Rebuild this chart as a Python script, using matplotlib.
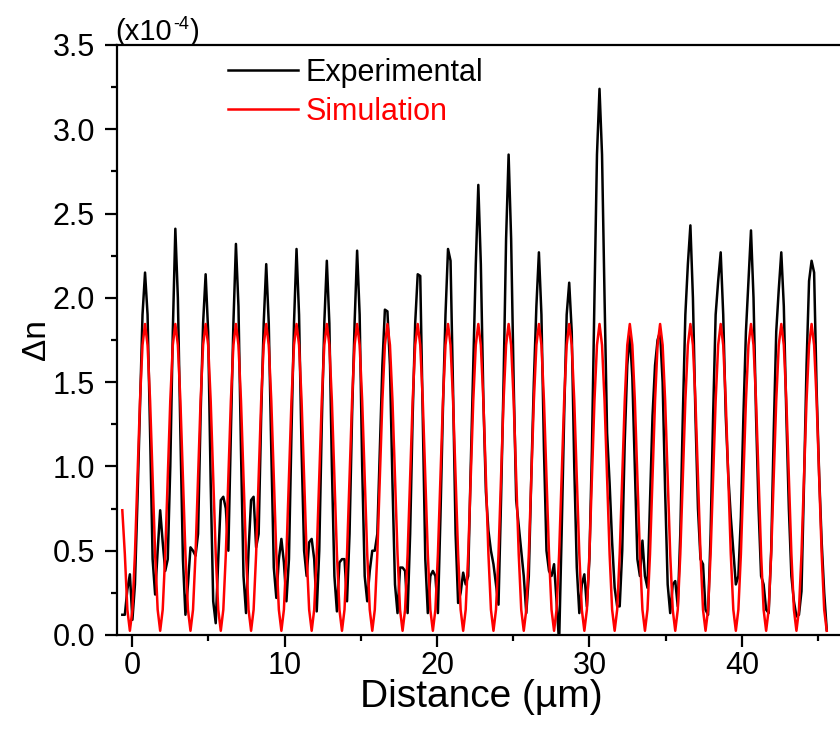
import numpy as np
import matplotlib
matplotlib.use("Agg")
import matplotlib.pyplot as plt
from matplotlib.ticker import MultipleLocator

plt.rcParams['font.family'] = ['Liberation Sans', 'DejaVu Sans']

# sampling of the distance axis (µm)
dist_start = -0.651
dist_step = 0.16567

# Experimental Δn (x1e-4), one row per grating period
exp_rows = [
    [0.12, 0.12, 0.27, 0.36, 0.09, 0.30, 0.80, 1.35, 1.90],
    [2.15, 1.90, 1.20, 0.45, 0.24, 0.50, 0.74, 0.55, 0.38, 0.45, 1.00, 1.80],
    [2.41, 2.00, 1.20, 0.45, 0.12, 0.30, 0.52, 0.50, 0.47, 0.60, 1.30, 1.85],
    [2.14, 1.80, 0.90, 0.20, 0.07, 0.45, 0.80, 0.82, 0.75, 0.50, 1.20, 1.85],
    [2.32, 1.95, 1.10, 0.35, 0.13, 0.50, 0.80, 0.82, 0.52, 0.60, 1.30, 1.85],
    [2.20, 1.85, 1.10, 0.40, 0.22, 0.45, 0.57, 0.43, 0.20, 0.45, 1.20, 1.85],
    [2.29, 1.90, 1.10, 0.50, 0.35, 0.55, 0.57, 0.45, 0.14, 0.50, 1.25, 1.85],
    [2.22, 1.85, 1.00, 0.35, 0.14, 0.43, 0.45, 0.45, 0.20, 0.60, 1.30, 1.85],
    [2.28, 1.90, 1.00, 0.35, 0.20, 0.38, 0.50, 0.50, 0.60, 1.10, 1.60, 1.93],
    [1.92, 1.60, 0.90, 0.30, 0.13, 0.40, 0.40, 0.38, 0.13, 0.60, 1.30, 1.85],
    [2.14, 2.13, 1.30, 0.45, 0.13, 0.35, 0.38, 0.35, 0.13, 0.70, 1.35, 1.90],
    [2.29, 2.22, 1.45, 0.60, 0.19, 0.25, 0.37, 0.30, 0.35, 1.00, 1.60, 2.20],
    [2.67, 2.20, 1.40, 0.85, 0.62, 0.50, 0.42, 0.30, 0.18, 0.80, 1.50, 2.35],
    [2.85, 2.35, 1.50, 0.80, 0.65, 0.50, 0.35, 0.13, 0.35, 0.95, 1.50, 1.95],
    [2.27, 1.90, 1.10, 0.50, 0.38, 0.35, 0.42, 0.20, -0.05, 0.60, 1.30, 1.90],
    [2.09, 1.80, 1.00, 0.40, 0.13, 0.30, 0.36, 0.17, 0.45, 1.10, 2.00, 2.85],
    [3.24, 2.85, 2.00, 1.20, 0.90, 0.55, 0.28, 0.17, 0.17, 0.50, 1.15, 1.60],
    [1.79, 1.53, 1.00, 0.45, 0.35, 0.56, 0.35, 0.28, 0.80, 1.30, 1.60, 1.75],
    [1.80, 1.50, 0.85, 0.30, 0.13, 0.30, 0.32, 0.17, 0.60, 1.30, 1.90, 2.20],
    [2.43, 2.00, 1.30, 0.75, 0.45, 0.42, 0.15, 0.12, 0.60, 1.30, 1.90, 2.10],
    [2.27, 1.90, 1.30, 0.95, 0.70, 0.50, 0.30, 0.35, 0.70, 1.30, 1.80, 2.10],
    [2.40, 2.00, 1.30, 0.75, 0.35, 0.30, 0.15, 0.13, 0.50, 1.20, 1.80, 2.05],
    [2.27, 1.95, 1.30, 0.75, 0.35, 0.20, 0.11, 0.12, 0.26, 0.90, 1.60, 2.10],
    [2.22, 2.15, 1.45, 0.95, 0.55, 0.25, 0.03],
]

# Simulated Δn (x1e-4), one row per grating period
sim_rows = [
    [0.74, 0.48, 0.15, 0.025, 0.15, 0.48, 0.935, 1.39, 1.72],
    [1.845, 1.72, 1.39, 0.935, 0.48, 0.15, 0.025, 0.15, 0.48, 0.935, 1.39, 1.72],
    [1.845, 1.72, 1.39, 0.935, 0.48, 0.15, 0.025, 0.15, 0.48, 0.935, 1.39, 1.72],
    [1.845, 1.72, 1.39, 0.935, 0.48, 0.15, 0.025, 0.15, 0.48, 0.935, 1.39, 1.72],
    [1.845, 1.72, 1.39, 0.935, 0.48, 0.15, 0.025, 0.15, 0.48, 0.935, 1.39, 1.72],
    [1.845, 1.72, 1.39, 0.935, 0.48, 0.15, 0.025, 0.15, 0.48, 0.935, 1.39, 1.72],
    [1.845, 1.72, 1.39, 0.935, 0.48, 0.15, 0.025, 0.15, 0.48, 0.935, 1.39, 1.72],
    [1.845, 1.72, 1.39, 0.935, 0.48, 0.15, 0.025, 0.15, 0.48, 0.935, 1.39, 1.72],
    [1.845, 1.72, 1.39, 0.935, 0.48, 0.15, 0.025, 0.15, 0.48, 0.935, 1.39, 1.72],
    [1.845, 1.72, 1.39, 0.935, 0.48, 0.15, 0.025, 0.15, 0.48, 0.935, 1.39, 1.72],
    [1.845, 1.72, 1.39, 0.935, 0.48, 0.15, 0.025, 0.15, 0.48, 0.935, 1.39, 1.72],
    [1.845, 1.72, 1.39, 0.935, 0.48, 0.15, 0.025, 0.15, 0.48, 0.935, 1.39, 1.72],
    [1.845, 1.72, 1.39, 0.935, 0.48, 0.15, 0.025, 0.15, 0.48, 0.935, 1.39, 1.72],
    [1.845, 1.72, 1.39, 0.935, 0.48, 0.15, 0.025, 0.15, 0.48, 0.935, 1.39, 1.72],
    [1.845, 1.72, 1.39, 0.935, 0.48, 0.15, 0.025, 0.15, 0.48, 0.935, 1.39, 1.72],
    [1.845, 1.72, 1.39, 0.935, 0.48, 0.15, 0.025, 0.15, 0.48, 0.935, 1.39, 1.72],
    [1.845, 1.72, 1.39, 0.935, 0.48, 0.15, 0.025, 0.15, 0.48, 0.935, 1.39, 1.72],
    [1.845, 1.72, 1.39, 0.935, 0.48, 0.15, 0.025, 0.15, 0.48, 0.935, 1.39, 1.72],
    [1.845, 1.72, 1.39, 0.935, 0.48, 0.15, 0.025, 0.15, 0.48, 0.935, 1.39, 1.72],
    [1.845, 1.72, 1.39, 0.935, 0.48, 0.15, 0.025, 0.15, 0.48, 0.935, 1.39, 1.72],
    [1.845, 1.72, 1.39, 0.935, 0.48, 0.15, 0.025, 0.15, 0.48, 0.935, 1.39, 1.72],
    [1.845, 1.72, 1.39, 0.935, 0.48, 0.15, 0.025, 0.15, 0.48, 0.935, 1.39, 1.72],
    [1.845, 1.72, 1.39, 0.935, 0.48, 0.15, 0.025, 0.15, 0.48, 0.935, 1.39, 1.72],
    [1.845, 1.72, 1.39, 0.935, 0.48, 0.15, 0.025],
]

series_labels = ['Experimental', 'Simulation']
x_major_ticks = [0, 10, 20, 30, 40]
y_major_ticks = [0.0, 0.5, 1.0, 1.5, 2.0, 2.5, 3.0, 3.5]

exp_y = np.array([v for row in exp_rows for v in row])
sim_y = np.array([v for row in sim_rows for v in row])
exp_x = dist_start + dist_step * np.arange(len(exp_y))
sim_x = dist_start + dist_step * np.arange(len(sim_y))

W, H = 840, 731
fig = plt.figure(figsize=(W / 100, H / 100), dpi=100)
ax = fig.add_axes([117.3 / W, (H - 635) / H, (845 - 117.3) / W, 590 / H])

ax.plot(exp_x, exp_y, color='black', lw=1.8, label=series_labels[0])
ax.plot(sim_x, sim_y, color='#ff0000', lw=1.8, label=series_labels[1])

ax.set_xlim(-0.98, -0.98 + (845 - 117.3) / 15.24)
ax.set_ylim(0, 3.5)
ax.set_xticks(x_major_ticks)
ax.set_yticks(y_major_ticks)
ax.set_yticklabels([f"{v:.1f}" for v in y_major_ticks])
ax.xaxis.set_minor_locator(MultipleLocator(5))
ax.yaxis.set_minor_locator(MultipleLocator(0.25))

for s in ax.spines.values():
    s.set_linewidth(1.6)
ax.spines['right'].set_visible(False)
ax.tick_params(which='major', direction='out', length=8.5, width=1.6,
               labelsize=22, top=False, right=False)
ax.tick_params(axis='y', which='major', pad=7.5)
ax.tick_params(axis='x', which='major', pad=3)
ax.tick_params(which='minor', direction='out', length=4.5, width=1.6,
               top=False, right=False)

ax.set_xlabel('Distance (µm)', fontsize=28, labelpad=-1.5)
ax.set_ylabel('Δn', fontsize=24, labelpad=0)

# "(x10-4)" multiplier label
fig.text(115 / W, 1 - 40 / H, '(x10', fontsize=21, ha='left', va='baseline')
fig.text(173 / W, 1 - 29 / H, '-4', fontsize=13, ha='left', va='baseline')
fig.text(190 / W, 1 - 40 / H, ')', fontsize=21, ha='left', va='baseline')

leg = ax.legend(loc='upper left', bbox_to_anchor=(228 / W, 1 - 58 / H),
                bbox_transform=fig.transFigure, frameon=False, fontsize=22,
                handlelength=2.3, handletextpad=0.25, borderpad=0,
                borderaxespad=0, labelspacing=0.28)
for t, c in zip(leg.get_texts(), ['black', '#ff0000']):
    t.set_color(c)

fig.savefig('out.png', dpi=100)
